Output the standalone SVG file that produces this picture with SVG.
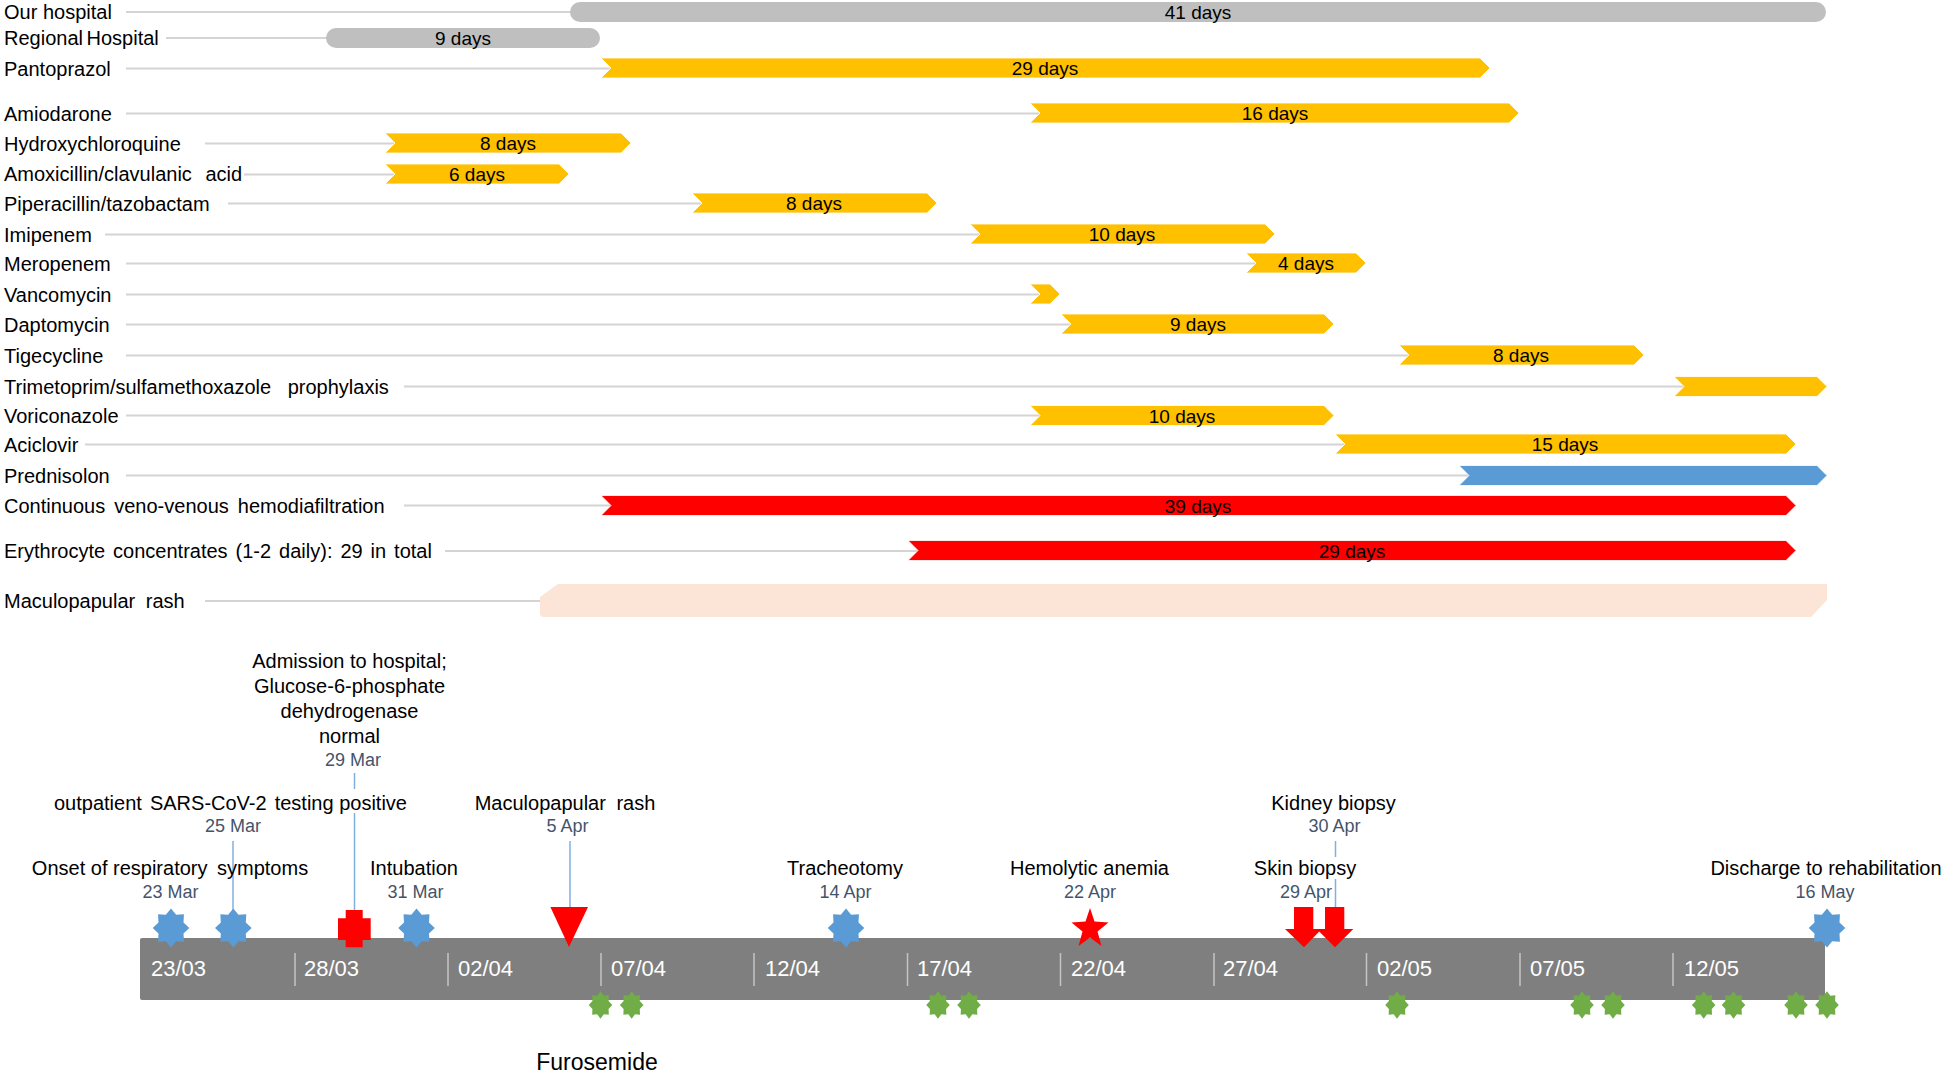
<svg xmlns="http://www.w3.org/2000/svg" xmlns:xlink="http://www.w3.org/1999/xlink" width="1946" height="1072" viewBox="0 0 1946 1072">
<style>
text{font-family:"Liberation Sans",Arial,sans-serif;}
.lbl{font-size:20px;fill:#000;}
.days{font-size:19px;fill:#000;text-anchor:middle;}
.ev{font-size:20px;fill:#000;text-anchor:middle;}
.dt{font-size:18px;fill:#44546a;text-anchor:middle;}
.ax{font-size:22px;fill:#ffffff;}
.row{stroke:#d4d4d4;stroke-width:2;fill:none;}
.lead{stroke:#7fb0e0;stroke-width:1.5;fill:none;}
.tick{stroke:#c4c4c4;stroke-width:1.5;}
.gray{fill:#bfbfbf;}
.org{fill:#ffc000;stroke:#fff;stroke-width:0.8;}
.blu{fill:#5b9bd5;stroke:#fff;stroke-width:0.8;}
.red{fill:#ff0000;stroke:#fff;stroke-width:0.8;}
.rash{fill:#fce4d6;}
.bstar{fill:#5b9bd5;}
.gstar{fill:#70ad47;}
.mk{fill:#ff0000;}
</style>
<defs>
<path id="star8" d="M0,-1 L0.2832,-0.6837 L0.7071,-0.7071 L0.6837,-0.2832 L1,0 L0.6837,0.2832 L0.7071,0.7071 L0.2832,0.6837 L0,1 L-0.2832,0.6837 L-0.7071,0.7071 L-0.6837,0.2832 L-1,0 L-0.6837,-0.2832 L-0.7071,-0.7071 L-0.2832,-0.6837 Z"/>
</defs>
<rect width="1946" height="1072" fill="#ffffff"/>

<g id="connectors">
<line class="row" x1="126" y1="12" x2="572" y2="12"/>
<line class="row" x1="166" y1="38" x2="328" y2="38"/>
<line class="row" x1="126" y1="68.5" x2="611" y2="68.5"/>
<line class="row" x1="126" y1="113.5" x2="1040" y2="113.5"/>
<line class="row" x1="205" y1="143.5" x2="395" y2="143.5"/>
<line class="row" x1="244" y1="174.5" x2="395" y2="174.5"/>
<line class="row" x1="228" y1="203.5" x2="702" y2="203.5"/>
<line class="row" x1="105" y1="234.5" x2="980" y2="234.5"/>
<line class="row" x1="126" y1="263.5" x2="1256" y2="263.5"/>
<line class="row" x1="126" y1="294.5" x2="1040" y2="294.5"/>
<line class="row" x1="126" y1="324.5" x2="1071" y2="324.5"/>
<line class="row" x1="126" y1="355.5" x2="1409" y2="355.5"/>
<line class="row" x1="404" y1="386.5" x2="1684" y2="386.5"/>
<line class="row" x1="126" y1="415.5" x2="1040" y2="415.5"/>
<line class="row" x1="85" y1="444.5" x2="1345" y2="444.5"/>
<line class="row" x1="126" y1="475.5" x2="1469" y2="475.5"/>
<line class="row" x1="404" y1="505.5" x2="611" y2="505.5"/>
<line class="row" x1="445" y1="551" x2="918" y2="551"/>
<line class="row" x1="205" y1="601" x2="545" y2="601"/>
<line class="lead" x1="233" y1="841" x2="233" y2="912"/>
<line class="lead" x1="354.5" y1="773" x2="354.5" y2="789"/>
<line class="lead" x1="354.5" y1="813" x2="354.5" y2="911"/>
<line class="lead" x1="570" y1="841" x2="570" y2="908"/>
<line class="lead" x1="1335.5" y1="841" x2="1335.5" y2="857"/>
<line class="lead" x1="1335.5" y1="879" x2="1335.5" y2="908"/>
</g>

<g id="row-our-hospital">
<text class="lbl" x="4" y="19">Our hospital</text>
<rect class="gray" x="570" y="2" width="1256" height="20" rx="10"/>
<text class="days" x="1198" y="19">41 days</text>
</g>
<g id="row-regional-hospital">
<text class="lbl" x="4" y="45" word-spacing="-2">Regional Hospital</text>
<rect class="gray" x="326" y="28" width="274" height="20" rx="10"/>
<text class="days" x="463" y="45">9 days</text>
</g>
<g id="row-pantoprazol">
<text class="lbl" x="4" y="76">Pantoprazol</text>
<polygon class="org" points="601,58 1480,58 1490,68 1480,78 601,78 611,68"/>
<text class="days" x="1045" y="75">29 days</text>
</g>
<g id="row-amiodarone">
<text class="lbl" x="4" y="121">Amiodarone</text>
<polygon class="org" points="1030,103 1509,103 1519,113 1509,123 1030,123 1040,113"/>
<text class="days" x="1275" y="120">16 days</text>
</g>
<g id="row-hydroxychloroquine">
<text class="lbl" x="4" y="151">Hydroxychloroquine</text>
<polygon class="org" points="385,133 621,133 631,143 621,153 385,153 395,143"/>
<text class="days" x="508" y="150">8 days</text>
</g>
<g id="row-amoxicillin">
<text class="lbl" x="4" y="181">Amoxicillin/clavulanic<tspan dx="8"> acid</tspan></text>
<polygon class="org" points="385,164 559,164 569,174 559,184 385,184 395,174"/>
<text class="days" x="477" y="181">6 days</text>
</g>
<g id="row-piperacillin">
<text class="lbl" x="4" y="211">Piperacillin/tazobactam</text>
<polygon class="org" points="692,193 927,193 937,203 927,213 692,213 702,203"/>
<text class="days" x="814" y="210">8 days</text>
</g>
<g id="row-imipenem">
<text class="lbl" x="4" y="242">Imipenem</text>
<polygon class="org" points="970,224 1265,224 1275,234 1265,244 970,244 980,234"/>
<text class="days" x="1122" y="241">10 days</text>
</g>
<g id="row-meropenem">
<text class="lbl" x="4" y="271">Meropenem</text>
<polygon class="org" points="1246,253 1356,253 1366,263 1356,273 1246,273 1256,263"/>
<text class="days" x="1306" y="270">4 days</text>
</g>
<g id="row-vancomycin">
<text class="lbl" x="4" y="302">Vancomycin</text>
<polygon class="org" points="1030,284 1050,284 1060,294 1050,304 1030,304 1040,294"/>
</g>
<g id="row-daptomycin">
<text class="lbl" x="4" y="332">Daptomycin</text>
<polygon class="org" points="1061,314 1324,314 1334,324 1324,334 1061,334 1071,324"/>
<text class="days" x="1198" y="331">9 days</text>
</g>
<g id="row-tigecycline">
<text class="lbl" x="4" y="363">Tigecycline</text>
<polygon class="org" points="1399,345 1634,345 1644,355 1634,365 1399,365 1409,355"/>
<text class="days" x="1521" y="362">8 days</text>
</g>
<g id="row-trimetoprim">
<text class="lbl" x="4" y="394" word-spacing="11">Trimetoprim/sulfamethoxazole prophylaxis</text>
<polygon class="org" points="1674,376.5 1817,376.5 1827,386.5 1817,396.5 1674,396.5 1684,386.5"/>
</g>
<g id="row-voriconazole">
<text class="lbl" x="4" y="423">Voriconazole</text>
<polygon class="org" points="1030,405.5 1324,405.5 1334,415.5 1324,425.5 1030,425.5 1040,415.5"/>
<text class="days" x="1182" y="422.5">10 days</text>
</g>
<g id="row-aciclovir">
<text class="lbl" x="4" y="452">Aciclovir</text>
<polygon class="org" points="1335,434 1786,434 1796,444 1786,454 1335,454 1345,444"/>
<text class="days" x="1565" y="451">15 days</text>
</g>
<g id="row-prednisolon">
<text class="lbl" x="4" y="483">Prednisolon</text>
<polygon class="blu" points="1459,465.5 1817,465.5 1827,475.5 1817,485.5 1459,485.5 1469,475.5"/>
</g>
<g id="row-cvvhdf">
<text class="lbl" x="4" y="513" word-spacing="3.5">Continuous veno-venous hemodiafiltration</text>
<polygon class="red" points="601,495.5 1786,495.5 1796,505.5 1786,515.5 601,515.5 611,505.5"/>
<text class="days" x="1198" y="512.5">39 days</text>
</g>
<g id="row-erythrocyte">
<text class="lbl" x="4" y="558" word-spacing="2.4">Erythrocyte concentrates (1-2 daily): 29 in total</text>
<polygon class="red" points="908,540.5 1786,540.5 1796,550.5 1786,560.5 908,560.5 918,550.5"/>
<text class="days" x="1352" y="557.5">29 days</text>
</g>
<g id="row-rash">
<text class="lbl" x="4" y="608" word-spacing="5">Maculopapular rash</text>
<path class="rash" d="M558,584 H1827 V600 L1811,617 H544 Q540,617 540,613 V597 Z"/>
</g>

<g id="timeline-axis">
<rect x="140" y="938" width="1685" height="62" rx="2" fill="#7f7f7f"/>
<line class="tick" x1="295" y1="953" x2="295" y2="986"/>
<line class="tick" x1="448" y1="953" x2="448" y2="986"/>
<line class="tick" x1="601" y1="953" x2="601" y2="986"/>
<line class="tick" x1="754" y1="953" x2="754" y2="986"/>
<line class="tick" x1="907.5" y1="953" x2="907.5" y2="986"/>
<line class="tick" x1="1060.5" y1="953" x2="1060.5" y2="986"/>
<line class="tick" x1="1214" y1="953" x2="1214" y2="986"/>
<line class="tick" x1="1366.5" y1="953" x2="1366.5" y2="986"/>
<line class="tick" x1="1520" y1="953" x2="1520" y2="986"/>
<line class="tick" x1="1673" y1="953" x2="1673" y2="986"/>
<text class="ax" x="151" y="976">23/03</text>
<text class="ax" x="304" y="976">28/03</text>
<text class="ax" x="458" y="976">02/04</text>
<text class="ax" x="611" y="976">07/04</text>
<text class="ax" x="765" y="976">12/04</text>
<text class="ax" x="917" y="976">17/04</text>
<text class="ax" x="1071" y="976">22/04</text>
<text class="ax" x="1223" y="976">27/04</text>
<text class="ax" x="1377" y="976">02/05</text>
<text class="ax" x="1530" y="976">07/05</text>
<text class="ax" x="1684" y="976">12/05</text>
</g>

<g id="ev-onset">
<text class="ev" x="170" y="875">Onset of respiratory<tspan dx="4"> symptoms</tspan></text>
<text class="dt" x="170.5" y="898">23 Mar</text>
<use xlink:href="#star8" class="bstar" transform="translate(171,928) scale(18.3,19.5)"/>
</g>
<g id="ev-sars">
<text class="ev" x="230.5" y="810">outpatient<tspan dx="2.5"> SARS-CoV-2</tspan><tspan dx="2.5"> testing positive</tspan></text>
<text class="dt" x="233" y="832">25 Mar</text>
<use xlink:href="#star8" class="bstar" transform="translate(233.3,928) scale(18.3,19.5)"/>
</g>
<g id="ev-admission">
<text class="ev" x="349.5" y="668">Admission to hospital;</text>
<text class="ev" x="349.5" y="693">Glucose-6-phosphate</text>
<text class="ev" x="349.5" y="718">dehydrogenase</text>
<text class="ev" x="349.5" y="743">normal</text>
<text class="dt" x="353" y="766">29 Mar</text>
<path class="mk" d="M345.7,910 H362.7 V918.3 H370.7 V940 H362.7 V947.3 H345.7 V940 H338 V918.3 H345.7 Z"/>
</g>
<g id="ev-intubation">
<text class="ev" x="414" y="875">Intubation</text>
<text class="dt" x="415.5" y="898">31 Mar</text>
<use xlink:href="#star8" class="bstar" transform="translate(416.5,928) scale(18.3,19.5)"/>
</g>
<g id="ev-rash">
<text class="ev" x="565" y="810" word-spacing="5">Maculopapular rash</text>
<text class="dt" x="567.5" y="832">5 Apr</text>
<polygon class="mk" points="550.4,907 588,907 569,947"/>
</g>
<g id="ev-tracheotomy">
<text class="ev" x="845" y="875">Tracheotomy</text>
<text class="dt" x="845.5" y="898">14 Apr</text>
<use xlink:href="#star8" class="bstar" transform="translate(846,928) scale(18.3,19.5)"/>
</g>
<g id="ev-hemolytic">
<text class="ev" x="1089.5" y="875">Hemolytic anemia</text>
<text class="dt" x="1090" y="898">22 Apr</text>
<polygon class="mk" points="1090,908 1094.5,921.5 1108.5,922.5 1097.5,931.5 1101.5,946 1090,937.5 1078.5,946 1082.5,931.5 1071.5,922.5 1085.5,921.5"/>
</g>
<g id="ev-skin-biopsy">
<text class="ev" x="1305" y="875">Skin biopsy</text>
<text class="dt" x="1306" y="898">29 Apr</text>
<polygon class="mk" points="1294,907 1313.3,907 1313.3,929 1321.7,929 1304,947.3 1285,929 1294,929"/>
</g>
<g id="ev-kidney-biopsy">
<text class="ev" x="1333.5" y="810">Kidney biopsy</text>
<text class="dt" x="1334.5" y="832">30 Apr</text>
<polygon class="mk" points="1325,907 1344.3,907 1344.3,929 1353.3,929 1335,947.3 1316.7,929 1325,929"/>
</g>
<g id="ev-discharge">
<text class="ev" x="1826" y="875">Discharge to rehabilitation</text>
<text class="dt" x="1825" y="898">16 May</text>
<use xlink:href="#star8" class="bstar" transform="translate(1827,928) scale(18.3,19.5)"/>
</g>
<g id="ev-furosemide">
<use xlink:href="#star8" class="gstar" transform="translate(600.5,1005) scale(11.8,13.7)"/>
<use xlink:href="#star8" class="gstar" transform="translate(631.7,1005) scale(11.8,13.7)"/>
<use xlink:href="#star8" class="gstar" transform="translate(938,1005) scale(11.8,13.7)"/>
<use xlink:href="#star8" class="gstar" transform="translate(969,1005) scale(11.8,13.7)"/>
<use xlink:href="#star8" class="gstar" transform="translate(1397,1005) scale(11.8,13.7)"/>
<use xlink:href="#star8" class="gstar" transform="translate(1582,1005) scale(11.8,13.7)"/>
<use xlink:href="#star8" class="gstar" transform="translate(1613,1005) scale(11.8,13.7)"/>
<use xlink:href="#star8" class="gstar" transform="translate(1703.7,1005) scale(11.8,13.7)"/>
<use xlink:href="#star8" class="gstar" transform="translate(1733.5,1005) scale(11.8,13.7)"/>
<use xlink:href="#star8" class="gstar" transform="translate(1796,1005) scale(11.8,13.7)"/>
<use xlink:href="#star8" class="gstar" transform="translate(1827,1005) scale(11.8,13.7)"/>
<text class="ev" x="597" y="1069.5" style="font-size:23px">Furosemide</text>
</g>
</svg>
